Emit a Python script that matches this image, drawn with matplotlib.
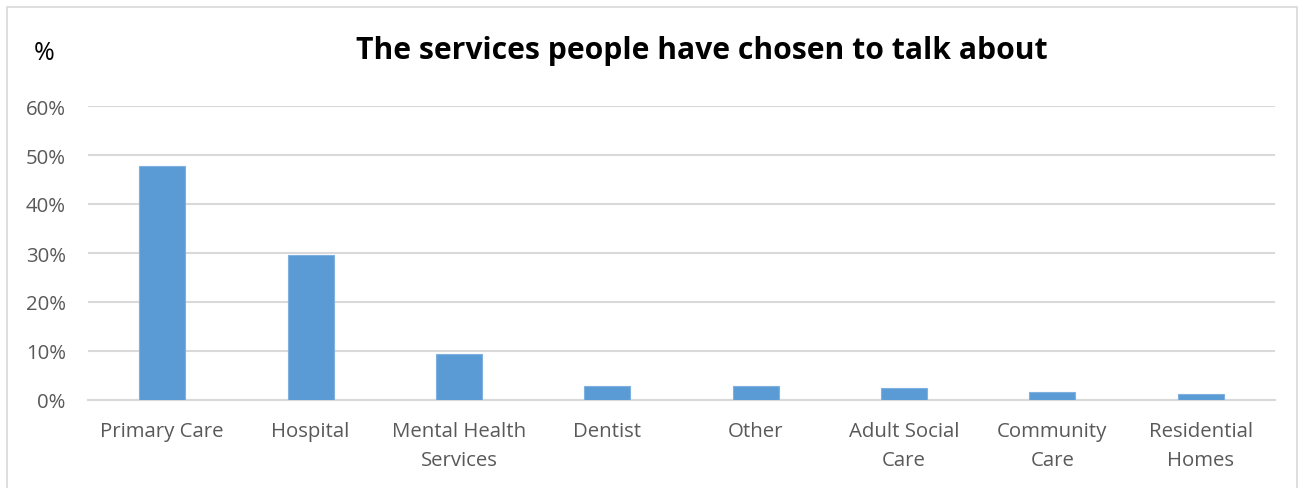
import matplotlib
matplotlib.use("Agg")
import matplotlib.pyplot as plt
from matplotlib.patches import Rectangle

categories = ["Primary Care", "Hospital", "Mental Health\nServices", "Dentist", "Other",
              "Adult Social\nCare", "Community\nCare", "Residential\nHomes"]
values = [47.7, 29.5, 9.4, 2.9, 2.9, 2.4, 1.7, 1.3]
yticks = [0, 10, 20, 30, 40, 50, 60]
ytick_labels = ["0%", "10%", "20%", "30%", "40%", "50%", "60%"]
title = "The services people have chosen to talk about"

plt.rcParams['font.family'] = ['Open Sans', 'DejaVu Sans']

W, H = 1301, 489
fig = plt.figure(figsize=(W / 100, H / 100), dpi=100)
ax = fig.add_axes([88 / W, 1 - 401 / H, (1275 - 88) / W, (401 - 107) / H])

x = list(range(len(categories)))
ax.bar(x, values, width=0.31, color="#5b9bd5", edgecolor="#7fb0df", linewidth=0.8, zorder=3)
ax.set_xlim(-0.5, len(categories) - 0.5)
ax.set_ylim(0, 60)
ax.set_yticks(yticks)
ax.set_yticklabels(ytick_labels)
ax.set_xticks(x)
ax.set_xticklabels(categories, linespacing=1.6, va="top")
ax.yaxis.grid(True, color="#d9d9d9", linewidth=1.5, zorder=0)
ax.set_axisbelow(True)
for s in ["top", "right", "left"]:
    ax.spines[s].set_visible(False)
ax.spines["bottom"].set_color("#d9d9d9")
ax.spines["bottom"].set_linewidth(1.5)
ax.tick_params(axis="both", length=0, colors="#595959", labelsize=14.7)
ax.tick_params(axis="x", pad=15)
ax.tick_params(axis="y", pad=16)

fig.text(702 / W, 1 - 51 / H, title, ha="center", va="center",
         fontsize=21.7, fontweight="bold", color="black")
fig.text(44 / W, 1 - 53 / H, "%", ha="center", va="center", fontsize=18, color="black")

fig.patches.append(Rectangle((7 / W, -0.1), (1297 - 7) / W, 1.1 - 8 / H,
                             transform=fig.transFigure, fill=False,
                             edgecolor="#d9d9d9", linewidth=1.2))

fig.savefig("out.png", dpi=100)
